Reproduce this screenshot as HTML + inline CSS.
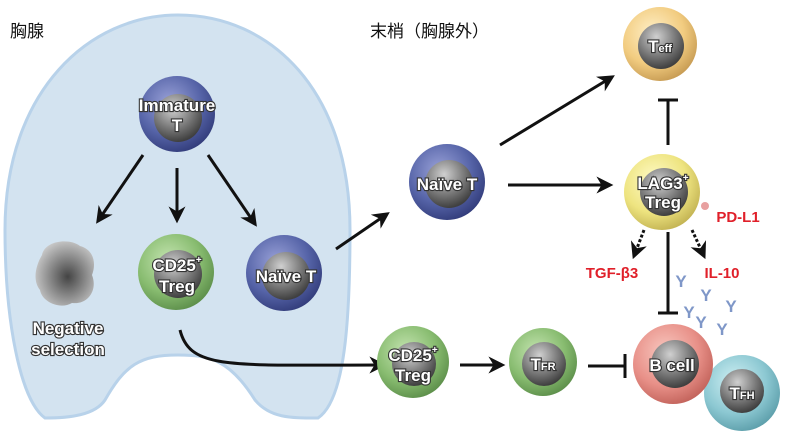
<!DOCTYPE html>
<html><head><meta charset="utf-8"><style>
body{margin:0;background:#fff;width:787px;height:431px;overflow:hidden}
svg{display:block}
.lbl{font-family:"Liberation Sans",sans-serif;font-weight:bold;fill:#fff;stroke:#333;stroke-width:2.2px;paint-order:stroke;text-anchor:middle}
.red{font-family:"Liberation Sans",sans-serif;font-weight:bold;fill:#e0202a;font-size:15px;text-anchor:middle}
.jp{font-family:"Liberation Sans","Noto Sans CJK JP",sans-serif;font-size:17px;fill:#111}
</style></head><body>
<svg width="787" height="431" viewBox="0 0 787 431">
<defs>
<radialGradient id="blue" cx="40%" cy="35%" r="70%"><stop offset="0" stop-color="#9aa2d8"/><stop offset="0.6" stop-color="#5664a8"/><stop offset="1" stop-color="#303a78"/></radialGradient>
<radialGradient id="green" cx="40%" cy="35%" r="70%"><stop offset="0" stop-color="#c4e4b0"/><stop offset="0.6" stop-color="#88bc70"/><stop offset="1" stop-color="#5a8c48"/></radialGradient>
<radialGradient id="yellow" cx="40%" cy="35%" r="70%"><stop offset="0" stop-color="#fffbc8"/><stop offset="0.6" stop-color="#eee480"/><stop offset="1" stop-color="#c0b050"/></radialGradient>
<radialGradient id="orange" cx="40%" cy="35%" r="70%"><stop offset="0" stop-color="#fff0c8"/><stop offset="0.6" stop-color="#f2cc80"/><stop offset="1" stop-color="#c49850"/></radialGradient>
<radialGradient id="red" cx="40%" cy="35%" r="70%"><stop offset="0" stop-color="#f8c8c0"/><stop offset="0.6" stop-color="#e89088"/><stop offset="1" stop-color="#c06058"/></radialGradient>
<radialGradient id="teal" cx="40%" cy="35%" r="70%"><stop offset="0" stop-color="#d0f0f4"/><stop offset="0.6" stop-color="#8cc8d2"/><stop offset="1" stop-color="#5a9ca8"/></radialGradient>
<radialGradient id="nuc" cx="40%" cy="30%" r="70%"><stop offset="0" stop-color="#d0d0d0"/><stop offset="0.6" stop-color="#787878"/><stop offset="1" stop-color="#404040"/></radialGradient>
<radialGradient id="gray" cx="55%" cy="55%" r="60%"><stop offset="0" stop-color="#444"/><stop offset="0.5" stop-color="#888"/><stop offset="1" stop-color="#ccc"/></radialGradient>
<marker id="ahb" viewBox="0 0 10 10" markerWidth="17" markerHeight="17" refX="8" refY="5" orient="auto" markerUnits="userSpaceOnUse"><path d="M0,0 L10,5 L0,10 L3,5Z" fill="#111"/></marker>
</defs>
<path d="M45,418 C20,400 5,320 5,230 C5,90 90,15 178,15 C270,15 350,90 350,230 C350,320 345,400 318,418 C290,418 270,418 255,400 C230,360 210,355 178,355 C140,355 125,365 105,400 C95,415 70,418 45,418Z" fill="#d3e3f0" stroke="#b8d2ea" stroke-width="3"/>
<text x="10" y="37" class="jp">胸腺</text>
<text x="370" y="37" class="jp">末梢（胸腺外）</text>
<g stroke="#111" stroke-width="3" fill="none">
<line x1="143" y1="155" x2="98" y2="221" marker-end="url(#ahb)"/>
<line x1="177" y1="168" x2="177" y2="220" marker-end="url(#ahb)"/>
<line x1="208" y1="155" x2="255" y2="224" marker-end="url(#ahb)"/>
<line x1="336" y1="249" x2="387" y2="214" marker-end="url(#ahb)"/>
<line x1="500" y1="145" x2="612" y2="77" marker-end="url(#ahb)"/>
<line x1="508" y1="185" x2="610" y2="185" marker-end="url(#ahb)"/>
<path d="M180,330 C190,370 230,365 383,365" marker-end="url(#ahb)"/>
<line x1="460" y1="365" x2="502" y2="365" marker-end="url(#ahb)"/>
<line x1="588" y1="366" x2="625" y2="366"/><line x1="625" y1="354" x2="625" y2="378"/>
<line x1="668" y1="145" x2="668" y2="100"/><line x1="658" y1="100" x2="678" y2="100"/>
<line x1="668" y1="232" x2="668" y2="313"/><line x1="658" y1="313" x2="678" y2="313"/>
<line x1="644" y1="230" x2="634" y2="256" stroke-dasharray="3,2" marker-end="url(#ahb)"/>
<line x1="692" y1="230" x2="704" y2="256" stroke-dasharray="3,2" marker-end="url(#ahb)"/>
</g>
<g fill="#7f97c8" font-family="Liberation Sans" font-weight="bold" font-size="17" text-anchor="middle">
<text x="681" y="287">Y</text><text x="706" y="301">Y</text><text x="731" y="312">Y</text><text x="689" y="318">Y</text><text x="701" y="328">Y</text><text x="722" y="335">Y</text>
</g>
<g>
<circle cx="742" cy="393" r="38" fill="url(#teal)"/><circle cx="742" cy="391" r="22" fill="url(#nuc)"/>
<circle cx="673" cy="364" r="40" fill="url(#red)"/><circle cx="675" cy="364" r="24" fill="url(#nuc)"/>
<circle cx="177" cy="114" r="38" fill="url(#blue)"/><circle cx="178" cy="118" r="24" fill="url(#nuc)"/>
<circle cx="176" cy="272" r="38" fill="url(#green)"/><circle cx="178" cy="274" r="24" fill="url(#nuc)"/>
<circle cx="284" cy="273" r="38" fill="url(#blue)"/><circle cx="286" cy="276" r="24" fill="url(#nuc)"/>
<circle cx="447" cy="182" r="38" fill="url(#blue)"/><circle cx="449" cy="184" r="24" fill="url(#nuc)"/>
<circle cx="660" cy="44" r="37" fill="url(#orange)"/><circle cx="661" cy="46" r="23" fill="url(#nuc)"/>
<circle cx="662" cy="192" r="38" fill="url(#yellow)"/><circle cx="664" cy="192" r="24" fill="url(#nuc)"/>
<circle cx="705" cy="206" r="4" fill="#e8a0a0"/>
<circle cx="413" cy="362" r="36" fill="url(#green)"/><circle cx="414" cy="364" r="22" fill="url(#nuc)"/>
<circle cx="543" cy="362" r="34" fill="url(#green)"/><circle cx="544" cy="364" r="22" fill="url(#nuc)"/>
<path d="M42,255 C45,240 70,238 80,246 C95,250 96,265 92,275 C98,290 88,305 72,303 C60,310 42,302 40,290 C32,280 36,265 42,255Z" fill="url(#gray)"/>
</g>
<g class="lbl" font-size="17">
<text x="177" y="111">Immature</text><text x="177" y="131">T</text>
<text x="177" y="271">CD25<tspan font-size="10" dy="-8">+</tspan></text><text x="177" y="292">Treg</text>
<text x="286" y="282">Naïve T</text>
<text x="447" y="190">Naïve T</text>
<text x="660" y="52">T<tspan font-size="11">eff</tspan></text>
<text x="663" y="189">LAG3<tspan font-size="10" dy="-8">+</tspan></text><text x="663" y="208">Treg</text>
<text x="413" y="361">CD25<tspan font-size="10" dy="-8">+</tspan></text><text x="413" y="381">Treg</text>
<text x="543" y="370">T<tspan font-size="11">FR</tspan></text>
<text x="672" y="371">B cell</text>
<text x="742" y="399">T<tspan font-size="11">FH</tspan></text>
<text x="68" y="334">Negative</text><text x="68" y="355">selection</text>
</g>
<text x="738" y="222" class="red">PD-L1</text>
<text x="612" y="278" class="red">TGF-β3</text>
<text x="722" y="278" class="red">IL-10</text>
</svg>
</body></html>
